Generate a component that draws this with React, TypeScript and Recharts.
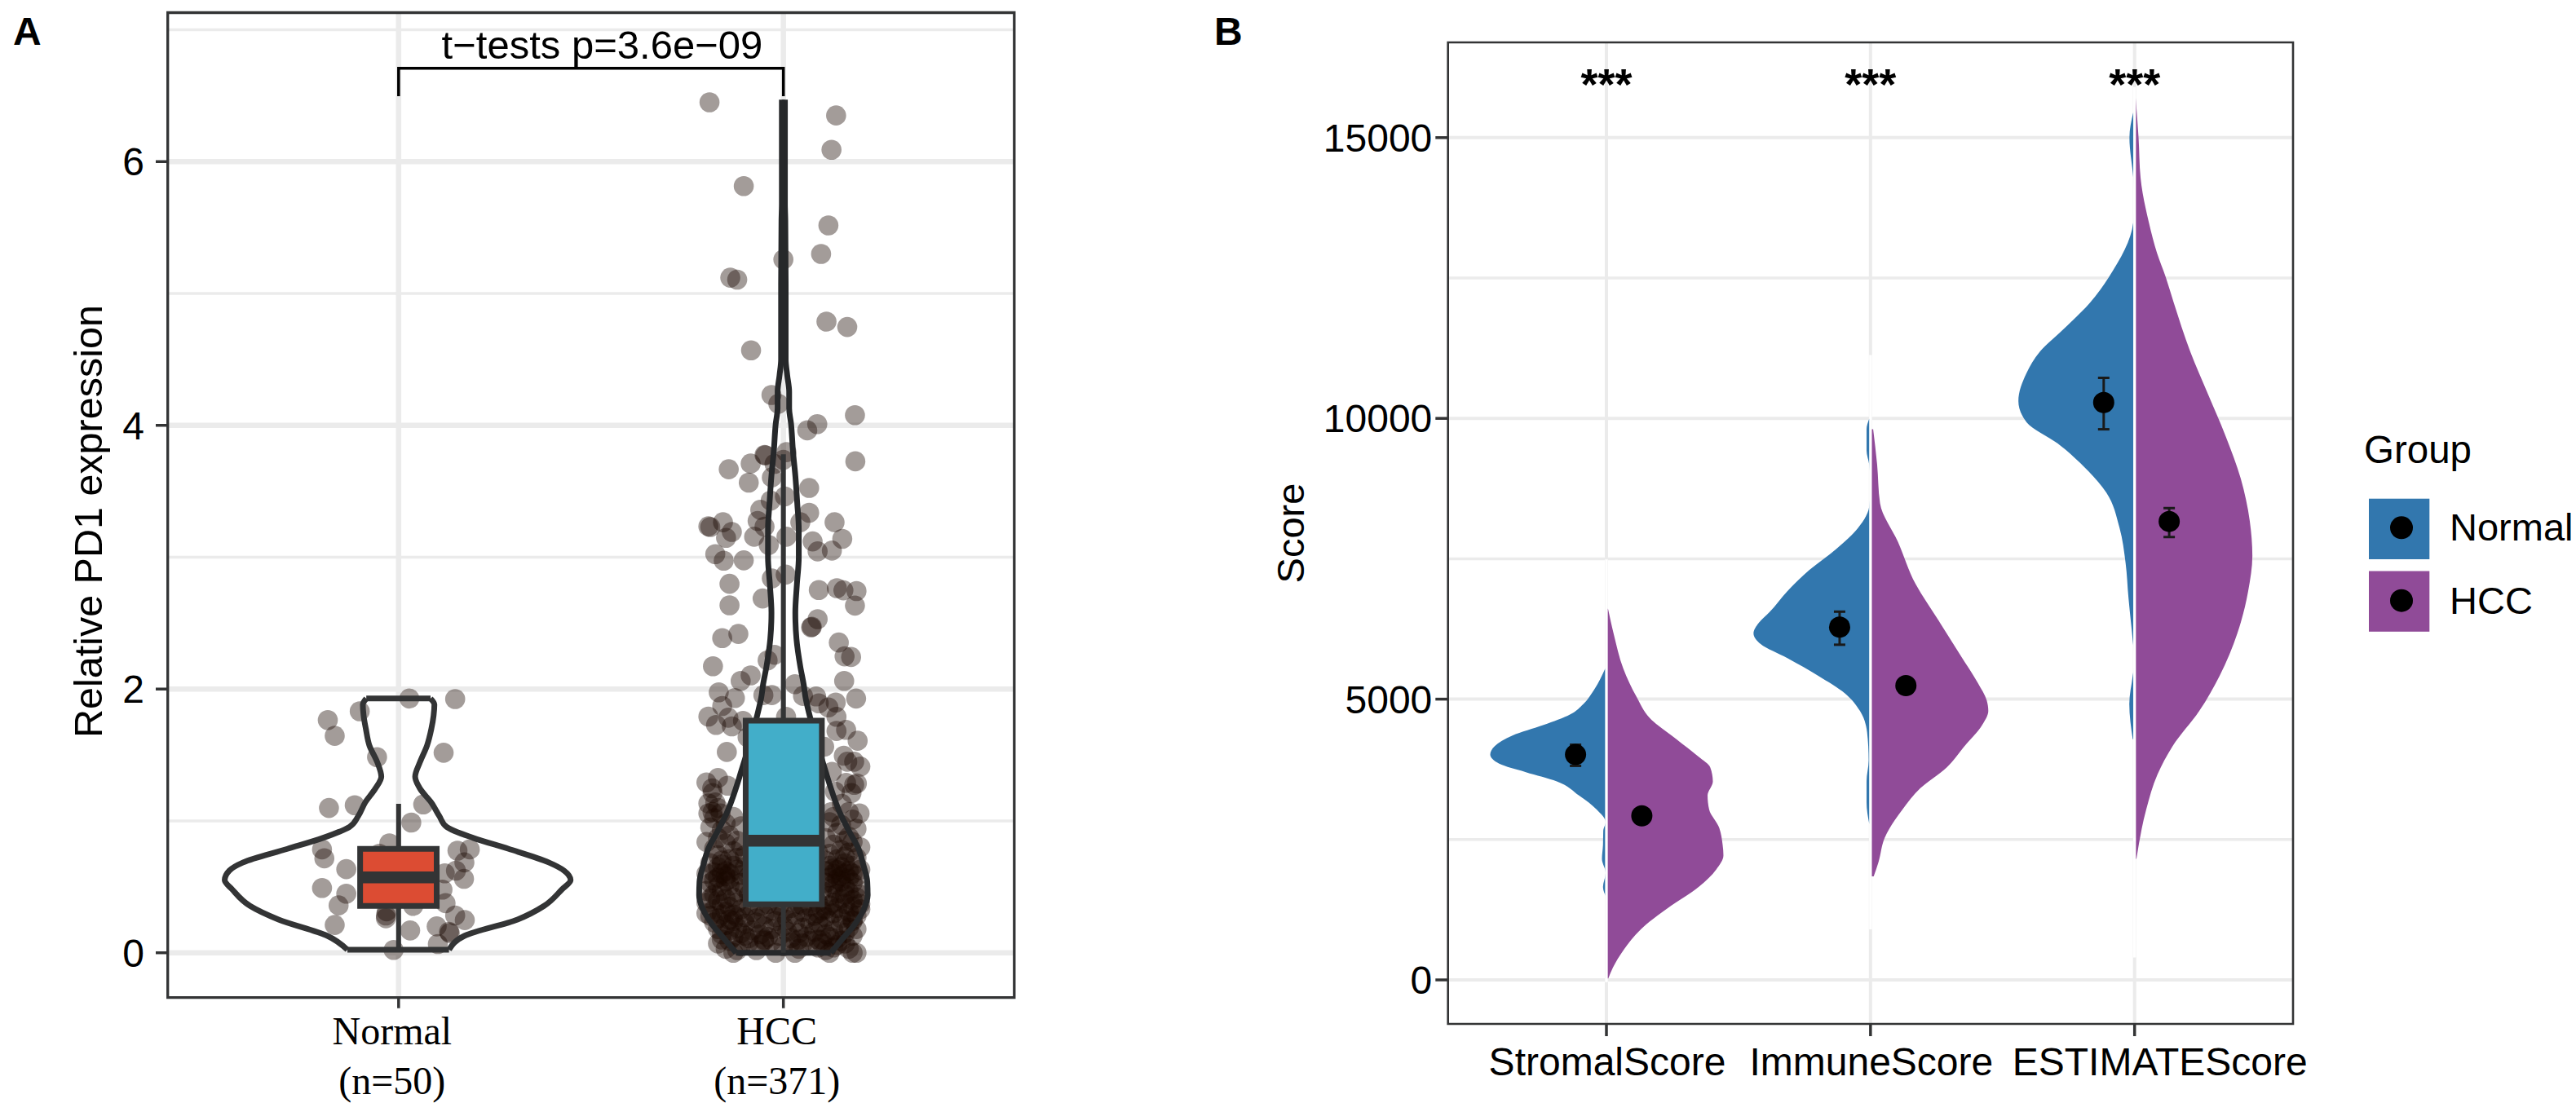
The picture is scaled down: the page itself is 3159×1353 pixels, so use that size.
import React from 'react';
import { ComposedChart, Area, Scatter, XAxis, YAxis, CartesianGrid, ReferenceArea, ReferenceDot, ErrorBar, Legend } from 'recharts';

const SANS = '"Liberation Sans", Arial, sans-serif';
const SERIF = '"Liberation Serif", "Times New Roman", serif';
const INK = '#333435';
const GRID = '#ebebeb';

// Panel A
const groupLabels = [['Normal', '(n=50)'], ['HCC', '(n=371)']];
const pTestLabel = 't\u2212tests p=3.6e\u221209';
const normalPoints = [
  [1.028,1.928],[1.147,1.924],[0.899,1.831],[0.816,1.765],[0.834,1.645],[1.117,1.517],[0.944,1.484],[0.819,1.098],[0.886,1.119],[1.064,1.125],
  [1.033,0.987],[0.976,0.83],[0.801,0.784],[0.807,0.716],[1.153,0.774],[1.185,0.784],[0.864,0.634],[1.171,0.685],[1.149,0.623],[1.17,0.561],
  [1.12,0.603],[0.801,0.491],[0.864,0.448],[1.114,0.479],[0.844,0.359],[1.122,0.376],[1.147,0.283],[1.172,0.248],[0.967,0.283],[0.967,0.262],
  [0.969,0.314],[1.038,0.355],[0.834,0.211],[1.03,0.169],[1.099,0.2],[1.133,0.149],[1.131,0.159],[1.102,0.066],[0.987,0.021],
  [0.95,0.75],[0.97,0.68],[1.03,0.72],[1.06,0.55],[0.94,0.5],[1.0,0.62],[1.04,0.45],[0.96,0.42],[1.07,0.66],[1.02,0.58],[0.98,0.52],
];
const hccPoints = [
  [1.808,6.45],[2.137,6.35],[2.125,6.09],[1.897,5.815],[2.117,5.516],[2.098,5.3],[2,5.258],[1.862,5.12],[1.88,5.105],[2.112,4.787],
  [2.166,4.746],[1.916,4.569],[1.969,4.23],[1.987,4.164],[2.186,4.077],[2.088,4.009],[2.062,3.962],[2.187,3.727],[1.858,3.667],[1.915,3.71],
  [1.951,3.776],[1.953,3.772],[2.008,3.797],[1.977,3.708],[2,3.739],[1.97,3.605],[1.91,3.566],[2.067,3.525],[2.004,3.461],[1.967,3.43],
  [1.94,3.359],[2.067,3.337],[1.933,3.275],[1.951,3.232],[2.044,3.265],[2.133,3.265],[1.843,3.265],[1.805,3.234],[1.81,3.229],[1.866,3.192],
  [1.851,3.147],[1.924,3.155],[2.008,3.155],[1.962,3.093],[2.076,3.12],[2.153,3.139],[2.126,3.05],[2.089,3.044],[1.823,3.023],[1.845,2.974],
  [1.897,2.976],[1.86,2.798],[1.97,2.839],[2.006,2.868],[2.092,2.751],[2.139,2.765],[2.156,2.749],[2.19,2.743],[2.186,2.633],[1.86,2.635],
  [1.946,2.687],[2.089,2.53],[2.074,2.472],[2.072,2.468],[1.883,2.418],[1.841,2.386],[2.144,2.353],[2.159,2.248],[2.176,2.243],[1.977,2.26],
  [1.959,2.218],[1.817,2.173],[1.915,2.103],[1.889,2.062],[2.158,2.062],[2.03,2.037],[1.832,1.975],[2.189,1.928],[1.874,1.932],[1.948,1.954],
  [1.97,1.954],[2.051,1.948],[2.085,1.944],[2.092,1.892],[2.117,1.861],[2.136,1.898],[1.841,1.872],[1.805,1.791],[1.825,1.728],[1.866,1.717],
  [1.857,1.783],[1.895,1.759],[2.007,1.79],[2.138,1.79],[2.163,1.691],[2.138,1.682],[2.193,1.608],[1.907,1.635],[1.853,1.523],[2.106,1.562],
  [2.157,1.494],[2.166,1.449],[2.184,1.449],[2.2,1.412],[2.126,1.372],[1.83,1.325],[1.8,1.292],[1.855,1.267],[1.816,1.211],[1.815,1.247],
  [1.805,1.133],[1.823,1.14],[2.191,1.284],[2.184,1.273],[2.163,1.288],[2.177,1.211],[2.134,1.222],[2.152,1.129],[2.198,1.057],[2.17,1.067],
  [1.816,1.067],[1.805,1.057],[1.83,1.098],[1.837,1.057],[2.124,1.067],
  [1.82,1.02],[1.85,0.98],[1.87,1.03],[1.84,0.93],[1.81,0.95],[1.86,0.89],[1.89,0.96],[1.92,1.0],[2.12,0.99],[2.15,0.97],
  [2.18,1.01],[2.14,0.91],[2.17,0.88],[2.19,0.94],[2.11,0.87],[2.13,1.03],[1.83,0.87],[1.88,0.85],[2.16,0.85],[2.05,0.95],
  [1.8,0.84],[1.82,0.79],[1.85,0.83],[1.83,0.74],[1.87,0.77],[1.89,0.81],[1.86,0.71],[1.84,0.7],[1.9,0.74],[1.88,0.72],
  [2.13,0.82],[2.15,0.78],[2.18,0.84],[2.2,0.8],[2.16,0.73],[2.19,0.72],[2.12,0.75],[2.14,0.71],[2.17,0.76],[2.11,0.7],
  [1.95,0.78],[2.03,0.72],[2.07,0.83],[1.98,0.8],[2.09,0.76],
  [1.81,0.68],[1.83,0.65],[1.85,0.62],[1.84,0.67],[1.86,0.6],[1.82,0.61],[1.87,0.66],[1.88,0.63],[1.85,0.58],[1.83,0.57],
  [1.89,0.59],[1.86,0.56],[1.8,0.6],[1.9,0.65],[1.84,0.6],[1.91,0.58],
  [2.12,0.66],[2.14,0.63],[2.16,0.68],[2.13,0.6],[2.15,0.58],[2.17,0.62],[2.18,0.66],[2.19,0.58],[2.14,0.56],[2.16,0.6],
  [2.12,0.57],[2.2,0.63],[2.11,0.62],[2.15,0.65],[2.17,0.56],[2.13,0.64],[2.18,0.6],[1.97,0.6],[2.04,0.66],[2.08,0.57],
  [1.81,0.53],[1.83,0.5],[1.8,0.47],[1.82,0.44],[1.85,0.54],[1.84,0.47],[1.86,0.51],[1.88,0.46],[1.87,0.42],[1.89,0.53],
  [1.85,0.41],[1.83,0.4],[1.9,0.49],[1.91,0.44],[1.81,0.41],
  [2.11,0.53],[2.13,0.49],[2.15,0.54],[2.14,0.45],[2.16,0.5],[2.18,0.53],[2.17,0.46],[2.19,0.49],[2.2,0.44],[2.12,0.43],
  [2.15,0.41],[2.18,0.4],[2.13,0.52],[2.16,0.44],[2.1,0.47],[1.94,0.5],[2.0,0.46],[2.06,0.52],[2.03,0.42],[1.96,0.43],
  [1.8,0.38],[1.82,0.33],[1.81,0.28],[1.84,0.37],[1.85,0.31],[1.83,0.26],[1.86,0.35],[1.87,0.29],[1.88,0.38],[1.89,0.33],
  [1.86,0.25],[1.9,0.27],[1.91,0.36],[1.92,0.31],[1.93,0.26],[1.94,0.35],[1.95,0.29],[1.96,0.37],[1.97,0.32],[1.98,0.27],
  [1.99,0.36],[2.0,0.3],[2.01,0.25],[2.02,0.34],[2.03,0.29],[2.04,0.37],[2.05,0.31],[2.06,0.26],[2.07,0.35],[2.08,0.28],
  [2.09,0.38],[2.1,0.32],[2.11,0.27],[2.12,0.36],[2.13,0.3],[2.14,0.34],[2.15,0.26],[2.16,0.37],[2.17,0.31],[2.18,0.35],
  [2.19,0.28],[2.2,0.33],[2.13,0.38],[2.16,0.29],[2.18,0.25],[1.84,0.29],[1.88,0.27],[2.09,0.3],[2.11,0.33],[2.05,0.36],
  [1.82,0.23],[1.83,0.18],[1.85,0.21],[1.84,0.14],[1.86,0.17],[1.87,0.24],[1.87,0.12],[1.88,0.19],[1.89,0.15],[1.9,0.22],
  [1.91,0.11],[1.92,0.17],[1.93,0.23],[1.94,0.14],[1.95,0.2],[1.96,0.12],[1.97,0.18],[1.98,0.24],[1.99,0.13],[2.0,0.2],
  [2.01,0.16],[2.02,0.11],[2.03,0.23],[2.04,0.15],[2.05,0.19],[2.06,0.12],[2.07,0.22],[2.08,0.16],[2.09,0.1],[2.1,0.2],
  [2.11,0.14],[2.12,0.24],[2.13,0.17],[2.14,0.11],[2.15,0.21],[2.16,0.15],[2.17,0.19],[2.18,0.13],[2.18,0.24],[2.19,0.18],
  [1.9,0.13],[1.95,0.1],[2.04,0.1],[2.12,0.12],[2.09,0.23],
  [1.83,0.07],[1.85,0.03],[1.87,0],[1.86,0.09],[1.89,0.05],[1.91,0.08],[1.93,0.02],[1.94,0.06],[1.97,0.09],[1.98,0],
  [2.0,0.05],[2.02,0.08],[2.04,0.03],[2.05,0.07],[2.07,0.09],[2.09,0.04],[2.1,0.07],[2.12,0],[2.14,0.06],[2.15,0.09],
  [2.17,0.03],[2.18,0],[2.19,0],[2.16,0.07],[1.88,0.02],[1.95,0.09],[2.03,0],[2.11,0.02],[1.84,0.1],[2.13,0.04],
  [2.2,0.37],[1.8,0.3],[2.19,0.42],[1.82,0.55],[2.1,0.1],
];
const normalViolinY = [1.928,1.882,1.8,1.697,1.573,1.449,1.335,1.243,1.139,1.036,0.954,0.871,0.788,0.685,0.623,0.551,0.479,0.355,0.252,0.128,0.023];
const normalViolinLow = [0.916,0.907,0.909,0.915,0.924,0.944,0.955,0.939,0.913,0.895,0.872,0.803,0.711,0.596,0.56,0.548,0.568,0.614,0.688,0.815,0.867];
const normalViolinHigh = [1.083,1.093,1.091,1.085,1.074,1.056,1.043,1.056,1.085,1.106,1.125,1.194,1.286,1.39,1.43,1.447,1.424,1.378,1.309,1.171,1.131];
const hccViolinY = [6.47,5.68,5.555,5.06,4.5,4.38,4.255,4.13,4.01,3.8,3.62,3.41,3.21,3.0,2.79,2.58,2.38,2.17,2.03,1.945,1.79,1.41,1.035,0.91,0.79,0.665,0.54,0.435,0.335,0.21,0.09,0];
const hccViolinWidth = [0.004,0.004,0.005,0.006,0.006,0.01,0.015,0.015,0.02,0.025,0.031,0.036,0.04,0.04,0.035,0.031,0.034,0.044,0.053,0.057,0.069,0.106,0.151,0.173,0.195,0.208,0.218,0.219,0.21,0.184,0.149,0.123];
const normalBox = { low: 0.9, high: 1.099, q1: 0.355, median: 0.572, q3: 0.788, whiskerLow: 0.02, whiskerHigh: 1.129 };
const hccBox = { low: 1.902, high: 2.1, q1: 0.367, median: 0.85, q3: 1.761, whiskerLow: 0, whiskerHigh: 3.78 };
const bracket = [{ x: 1, y: 6.497 }, { x: 1, y: 6.708 }, { x: 2, y: 6.708 }, { x: 2, y: 6.497 }];

// Panel B
const scoreNames = ['StromalScore', 'ImmuneScore', 'ESTIMATEScore'];
const legendNames = ['Normal', 'HCC'];
const legendColors = ['#3277ae', '#904b98'];
const stromalNormalY = [5543,5166,4916,4728,4539,4351,4163,4013,3850,3699,3536,3285,3035,2809,2658,2408,2157,1906,1655,1467];
const stromalNormalW = [0.005,0.047,0.087,0.137,0.238,0.356,0.423,0.44,0.406,0.305,0.188,0.104,0.037,0.003,0.012,0.013,0.017,0.003,0.013,0];
const stromalHccY = [6608,6170,5543,5041,4665,4288,3975,3787,3536,3285,3035,2721,2408,2219,1969,1655,1279,903,527,213,25];
const stromalHccW = [0.006,0.027,0.064,0.114,0.164,0.265,0.349,0.393,0.403,0.383,0.389,0.426,0.44,0.443,0.416,0.349,0.232,0.131,0.064,0.024,0.007];
const immuneNormalY = [9994,9806,9430,9179,8800,8427,8051,7674,7298,6922,6546,6358,6170,5981,5731,5417,5104,4790,4414,3912,3536,3160,2784];
const immuneNormalW = [0.005,0.015,0.015,0.005,0,0.005,0.047,0.13,0.232,0.315,0.383,0.423,0.443,0.416,0.315,0.198,0.097,0.04,0.013,0.007,0.015,0.015,0.005];
const immuneHccY = [9806,9179,8490,7800,7047,6420,5793,5292,4978,4790,4539,4163,3787,3411,3035,2533,2094,1843];
const immuneHccW = [0.01,0.025,0.036,0.104,0.171,0.255,0.339,0.406,0.44,0.446,0.423,0.356,0.289,0.188,0.121,0.054,0.03,0.012];
const estimateNormalY = [15450,15000,14285,13900,13490,12516,12064,11562,11186,10810,10308,9932,9556,9054,8678,8051,7424,6797,6044,5668,5417,4916,4288];
const estimateNormalW = [0.005,0.0195,0.005,0,0.005,0.0975,0.168,0.275,0.359,0.409,0.44,0.409,0.292,0.174,0.107,0.057,0.034,0.023,0.007,0,0.007,0.02,0.007];
const estimateHccY = [15708,15000,14285,13490,12942,12516,12064,11186,10433,9681,8928,8176,7549,6922,6170,5417,4790,4163,3662,3035,2157];
const estimateHccW = [0.004,0.015,0.0226,0.054,0.085,0.118,0.148,0.211,0.278,0.345,0.402,0.436,0.446,0.43,0.389,0.322,0.245,0.144,0.087,0.044,0.007];
const centerLineSpans = [[1, -40, 7486], [2, 900, 11130], [3, 400, 15900]];
const meanRows = [
  { x: 0.883, y: 4013, err: [201, 175], group: 0 },
  { x: 1.134, y: 2922, err: [100, 100], group: 1 },
  { x: 1.883, y: 6282, err: [313, 276], group: 0 },
  { x: 2.134, y: 5242, err: [110, 110], group: 1 },
  { x: 2.883, y: 10283, err: [477, 439], group: 0 },
  { x: 3.131, y: 8164, err: [277, 238], group: 1 },
];

const rows = (ys: number[], low: (i: number) => number, high: (i: number) => number) =>
  ys.map((y, i) => ({ y, range: [low(i), high(i)] })).sort((a, b) => a.y - b.y);
const leftHalf = (c: number, ys: number[], ws: number[]) => rows(ys, (i) => c - ws[i], () => c);
const rightHalf = (c: number, ys: number[], ws: number[]) => rows(ys, () => c, (i) => c + ws[i]);
const noMark = () => <g />;

const segment = (key: string, data: { x: number; y: number }[], stroke: string, strokeWidth: number, zIndex: number) => (
  <Scatter key={key} data={data} line={{ stroke, strokeWidth }} shape={noMark} isAnimationActive={false} legendType="none" zIndex={zIndex} />
);
const dots = (r: number, fill: string, opacity: number) => (p: any) => <circle cx={p.cx} cy={p.cy} r={r} fill={fill} fillOpacity={opacity} />;
const toXY = (pairs: number[][]) => pairs.map(([x, y]) => ({ x, y }));

const TickA = ({ x, y, index }: any) => (
  <text textAnchor="middle" fontFamily={SERIF} fontSize={48} fill="#000">
    <tspan x={x - 8} y={y + 44}>{groupLabels[index][0]}</tspan>
    <tspan x={x - 8} y={y + 105}>{groupLabels[index][1]}</tspan>
  </text>
);
const tickBShift = [1, 1, 31];
const TickB = ({ x, y, index }: any) => (
  <text x={x + tickBShift[index]} y={y + 48.3} textAnchor="middle" fontFamily={SANS} fontSize={48} fill="#000">{scoreNames[index]}</text>
);

const GroupLegend = () => (
  <svg width={347} height={800} style={{ display: 'block' }}>
    <text x={87} y={568} fontFamily={SANS} fontSize={47.5} fill="#000">Group</text>
    {legendNames.map((name, i) => (
      <g key={name}>
        <rect x={93} y={611.7 + i * 88.8} width={74.3} height={74.3} fill={legendColors[i]} />
        <circle cx={133} cy={647.3 + i * 89.4} r={14} fill="#000" />
        <text x={192} y={663 + i * 89.7} fontFamily={SANS} fontSize={47} fill="#000">{name}</text>
      </g>
    ))}
  </svg>
);

const boxMarks = (key: string, b: typeof normalBox, center: number, fill: string) => [
  segment(key + 'w', [{ x: center, y: b.whiskerLow }, { x: center, y: b.whiskerHigh }], INK, 6, 400),
  <ReferenceArea key={key + 'b'} x1={b.low} x2={b.high} y1={b.q1} y2={b.q3} fill={fill} fillOpacity={1} stroke={INK} strokeWidth={7} zIndex={500} />,
  segment(key + 'm', [{ x: b.low, y: b.median }, { x: b.high, y: b.median }], INK, 14.5, 600),
];

export default function App() {
  return (
    <div style={{ position: 'absolute', left: 0, top: 0, width: 3159, height: 1353, background: '#fff', overflow: 'hidden' }}>
      <div style={{ position: 'absolute', left: 16, top: 11, font: `bold 48px ${SANS}`, color: '#000' }}>A</div>
      <div style={{ position: 'absolute', left: 1489, top: 11, font: `bold 48px ${SANS}`, color: '#000' }}>B</div>

      <div style={{ position: 'absolute', left: 0, top: 0 }}>
        <ComposedChart width={1450} height={1353} layout="vertical" margin={{ top: 15.5, right: 206.2, bottom: 0, left: 0 }} style={{ fontFamily: SANS }}>
          <CartesianGrid horizontalValues={[1, 3, 5, 7]} vertical={false} stroke={GRID} strokeWidth={3.5} />
          <CartesianGrid horizontalValues={[0, 2, 4, 6]} verticalValues={[1, 2]} stroke={GRID} strokeWidth={6.5} />
          <XAxis type="number" dataKey="x" domain={[0.4, 2.6]} ticks={[1, 2]} interval={0} height={129.3} axisLine={false} tickSize={13} tickMargin={0} tickLine={{ stroke: INK, strokeWidth: 3.5 }} tick={<TickA />} />
          <YAxis type="number" dataKey="y" reversed domain={[-0.34, 7.13]} ticks={[0, 2, 4, 6]} interval={0} width={205.7} axisLine={false} tickSize={14.7} tickMargin={14} tickLine={{ stroke: INK, strokeWidth: 3.5 }} tick={{ fontSize: 48, fill: '#000', fontFamily: SANS }}
            label={{ value: 'Relative PD1 expression', angle: -90, position: 'center', dx: 5, dy: 20, fontSize: 48.5, fill: '#000', fontFamily: SANS }} />

          <Scatter data={toXY(normalPoints)} shape={dots(12.3, '#190700', 0.4)} isAnimationActive={false} legendType="none" zIndex={200} />
          <Scatter data={toXY(hccPoints)} shape={dots(12.3, '#190700', 0.4)} isAnimationActive={false} legendType="none" zIndex={200} />

          <Area data={rows(normalViolinY, (i) => normalViolinLow[i], (i) => normalViolinHigh[i])} dataKey="range" type="monotone" fill="none" stroke={INK} strokeWidth={7} dot={false} activeDot={false} isAnimationActive={false} legendType="none" zIndex={300} />
          {segment('nt', [{ x: normalViolinLow[0], y: normalViolinY[0] }, { x: normalViolinHigh[0], y: normalViolinY[0] }], INK, 7, 300)}
          {segment('nb', [{ x: normalViolinLow[20], y: normalViolinY[20] }, { x: normalViolinHigh[20], y: normalViolinY[20] }], INK, 7, 300)}
          <Area data={rows(hccViolinY, (i) => 2 - hccViolinWidth[i], (i) => 2 + hccViolinWidth[i])} dataKey="range" type="monotone" fill="none" stroke="#26282a" strokeWidth={7} dot={false} activeDot={false} isAnimationActive={false} legendType="none" zIndex={300} />
          {segment('hb', [{ x: 2 - hccViolinWidth[31], y: 0 }, { x: 2 + hccViolinWidth[31], y: 0 }], '#26282a', 7, 300)}

          {boxMarks('n', normalBox, 1, '#dc4c33')}
          {boxMarks('h', hccBox, 2, '#42aec9')}

          {segment('bracket', bracket, '#000', 3.5, 700)}
          <ReferenceDot x={1.529} y={6.888} r={0} fill="none" stroke="none" zIndex={700} label={{ value: pTestLabel, position: 'center', fontSize: 49, fill: '#000', fontFamily: SANS }} />
          <ReferenceArea x1={0.4} x2={2.6} y1={-0.34} y2={7.13} fill="none" stroke={INK} strokeWidth={3.3} zIndex={800} />
        </ComposedChart>
      </div>

      <div style={{ position: 'absolute', left: 1450, top: 0 }}>
        <ComposedChart width={1709} height={1353} layout="vertical" margin={{ top: 52, right: 0, bottom: 0, left: 0 }} style={{ fontFamily: SANS }}>
          <CartesianGrid horizontalValues={[2500, 7500, 12500]} vertical={false} stroke={GRID} strokeWidth={3.5} />
          <CartesianGrid horizontalValues={[0, 5000, 10000, 15000]} verticalValues={[1, 2, 3]} stroke={GRID} strokeWidth={4} />
          <XAxis type="number" dataKey="x" domain={[0.4, 3.6]} ticks={[1, 2, 3]} interval={0} height={97} axisLine={false} tickSize={15} tickMargin={0} tickLine={{ stroke: INK, strokeWidth: 3.5 }} tick={<TickB />} />
          <YAxis type="number" dataKey="y" reversed domain={[-784, 16696]} ticks={[0, 5000, 10000, 15000]} interval={0} width={325.7} axisLine={false} tickSize={15.4} tickMargin={4} tickLine={{ stroke: INK, strokeWidth: 3.5 }} tick={{ fontSize: 48, fill: '#000', fontFamily: SANS }}
            label={{ value: 'Score', angle: -90, position: 'center', dx: -31, dy: 0, fontSize: 47, fill: '#000', fontFamily: SANS }} />
          <Legend layout="vertical" align="right" verticalAlign="top" width={347} content={<GroupLegend />} wrapperStyle={{ top: 0, right: 0 }} />

          {[leftHalf(1, stromalNormalY, stromalNormalW), leftHalf(2, immuneNormalY, immuneNormalW), leftHalf(3, estimateNormalY, estimateNormalW)].map((d, i) => (
            <Area key={'n' + i} data={d} dataKey="range" type="monotone" fill={legendColors[0]} fillOpacity={1} stroke="none" dot={false} activeDot={false} isAnimationActive={false} legendType="none" zIndex={200} />
          ))}
          {[rightHalf(1, stromalHccY, stromalHccW), rightHalf(2, immuneHccY, immuneHccW), rightHalf(3, estimateHccY, estimateHccW)].map((d, i) => (
            <Area key={'h' + i} data={d} dataKey="range" type="monotone" fill={legendColors[1]} fillOpacity={1} stroke="none" dot={false} activeDot={false} isAnimationActive={false} legendType="none" zIndex={200} />
          ))}
          {centerLineSpans.map(([c, a, b]) => segment('c' + c, [{ x: c, y: a }, { x: c, y: b }], '#fff', 3.3, 300))}

          <Scatter data={meanRows} shape={dots(13, '#000', 1)} isAnimationActive={false} legendType="none" zIndex={400}>
            <ErrorBar dataKey="err" direction="y" width={7} stroke="#1a1a1a" strokeWidth={3} isAnimationActive={false} />
          </Scatter>
          {[1, 2, 3].map((c) => (
            <ReferenceDot key={'s' + c} x={c} y={15955} r={0} fill="none" stroke="none" zIndex={500} label={{ value: '***', position: 'center', fontSize: 54, fontWeight: 'bold', fill: '#000', fontFamily: SANS }} />
          ))}
          <ReferenceArea x1={0.4} x2={3.6} y1={-784} y2={16696} fill="none" stroke={INK} strokeWidth={2.6} zIndex={800} />
        </ComposedChart>
      </div>
    </div>
  );
}
